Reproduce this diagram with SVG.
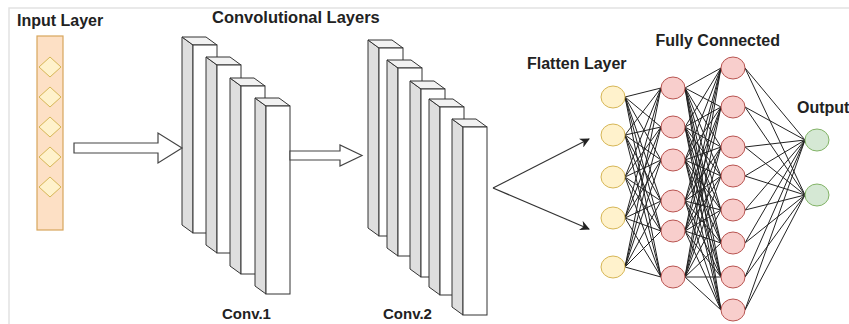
<svg xmlns="http://www.w3.org/2000/svg" xmlns:xlink="http://www.w3.org/1999/xlink" width="849" height="324" viewBox="0 0 849 324">
<style>
.lbl{font-family:"Liberation Sans",Arial,sans-serif;font-weight:bold;font-size:16px;fill:#222}
.sm{font-size:15px}
.blk-side{fill:#dedede;stroke:#333;stroke-width:1}
.blk-top{fill:#f2f2f2;stroke:#333;stroke-width:1}
.blk-front{fill:#fff;stroke:#333;stroke-width:1}
.barrow{fill:#fff;stroke:#444;stroke-width:1.2}
.dia{fill:#fff2cc;stroke:#d6b656;stroke-width:1}
.yel{fill:#fff2cc;stroke:#d6b656;stroke-width:1}
.pink{fill:#f8cecc;stroke:#b85450;stroke-width:1}
.grn{fill:#d5e8d4;stroke:#82b366;stroke-width:1}
.mesh{fill:none;stroke:#222;stroke-width:1}
.flat{fill:none;stroke:#333;stroke-width:1.2}
</style>
<defs>
<g id="blk">
<polygon class="blk-side" points="-11,-8 0,0 0,188 -11,180"/>
<polygon class="blk-top" points="-11,-8 13,-8 24,0 0,0"/>
<rect class="blk-front" x="0" y="0" width="24" height="188"/>
</g>
<marker id="ah" markerWidth="10" markerHeight="10" refX="9" refY="5" orient="auto" markerUnits="userSpaceOnUse">
<path d="M0,0 L10,5 L0,10 L3,5 Z" fill="#222"/>
</marker>
</defs>
<rect width="849" height="324" fill="#fff"/>
<path d="M9 324V8H849" fill="none" stroke="#e2e2e2" stroke-width="1.5"/>

<g id="input-layer">
<rect x="37" y="36" width="26" height="194" fill="#fde0c5" stroke="#d8a65c" stroke-width="1.2"/>
<polygon class="dia" points="50,57 61,67 50,77 39,67"/>
<polygon class="dia" points="50,87 61,97 50,107 39,97"/>
<polygon class="dia" points="50,117 61,127 50,137 39,127"/>
<polygon class="dia" points="50,147 61,157 50,167 39,157"/>
<polygon class="dia" points="50,177 61,187 50,197 39,187"/>
<text class="lbl" x="17" y="26">Input Layer</text>
</g>

<g id="conv1">
<use xlink:href="#blk" x="193" y="45"/>
<use xlink:href="#blk" x="217" y="65"/>
<use xlink:href="#blk" x="241" y="86"/>
<use xlink:href="#blk" x="266" y="106"/>
<text class="lbl sm" x="222" y="319">Conv.1</text>
</g>

<g id="conv2">
<use xlink:href="#blk" x="379" y="48"/>
<use xlink:href="#blk" x="398" y="68"/>
<use xlink:href="#blk" x="421" y="89"/>
<use xlink:href="#blk" x="440" y="107"/>
<use xlink:href="#blk" x="463" y="127"/>
<text class="lbl sm" x="383" y="319">Conv.2</text>
</g>

<g id="conv-title">
<text class="lbl" x="212" y="23" style="font-size:16.5px">Convolutional Layers</text>
</g>

<g id="connectors">
<path class="barrow" d="M74 143H158V133L182 148L158 163V153H74Z"/>
<path class="barrow" d="M290 151H340V145L362 155.5L340 166V160H290Z"/>
<path class="flat" d="M493 188L589 139" marker-end="url(#ah)"/>
<path class="flat" d="M493 188L589 229" marker-end="url(#ah)"/>
<path class="mesh" d="M625 97L661 88M625 97L661 127M625 97L661 160M625 97L661 201M625 97L661 231M625 97L661 277
M625 135L661 88M625 135L661 127M625 135L661 160M625 135L661 201M625 135L661 231M625 135L661 277
M625 177L661 88M625 177L661 127M625 177L661 160M625 177L661 201M625 177L661 231M625 177L661 277
M625 218L661 88M625 218L661 127M625 218L661 160M625 218L661 201M625 218L661 231M625 218L661 277
M625 267L661 88M625 267L661 127M625 267L661 160M625 267L661 201M625 267L661 231M625 267L661 277"/>
<path class="mesh" d="M685 88L721 68M685 88L721 107M685 88L721 147M685 88L721 176M685 88L721 210M685 88L721 243M685 88L721 277M685 88L721 310
M685 127L721 68M685 127L721 107M685 127L721 147M685 127L721 176M685 127L721 210M685 127L721 243M685 127L721 277M685 127L721 310
M685 160L721 68M685 160L721 107M685 160L721 147M685 160L721 176M685 160L721 210M685 160L721 243M685 160L721 277M685 160L721 310
M685 201L721 68M685 201L721 107M685 201L721 147M685 201L721 176M685 201L721 210M685 201L721 243M685 201L721 277M685 201L721 310
M685 231L721 68M685 231L721 107M685 231L721 147M685 231L721 176M685 231L721 210M685 231L721 243M685 231L721 277M685 231L721 310
M685 277L721 68M685 277L721 107M685 277L721 147M685 277L721 176M685 277L721 210M685 277L721 243M685 277L721 277M685 277L721 310"/>
<path class="mesh" d="M745 68L805 140M745 68L805 195M745 107L805 140M745 107L805 195M745 147L805 140M745 147L805 195M745 176L805 140M745 176L805 195
M745 210L805 140M745 210L805 195M745 243L805 140M745 243L805 195M745 277L805 140M745 277L805 195M745 310L805 140M745 310L805 195"/>
</g>

<g id="flatten-layer">
<ellipse class="yel" cx="613" cy="97" rx="12" ry="11"/>
<ellipse class="yel" cx="613" cy="135" rx="12" ry="11"/>
<ellipse class="yel" cx="613" cy="177" rx="12" ry="11"/>
<ellipse class="yel" cx="613" cy="218" rx="12" ry="11"/>
<ellipse class="yel" cx="613" cy="267" rx="12" ry="11"/>
<text class="lbl" x="527" y="69">Flatten Layer</text>
</g>

<g id="fc1">
<ellipse class="pink" cx="673" cy="88" rx="12" ry="11"/>
<ellipse class="pink" cx="673" cy="127" rx="12" ry="11"/>
<ellipse class="pink" cx="673" cy="160" rx="12" ry="11"/>
<ellipse class="pink" cx="673" cy="201" rx="12" ry="11"/>
<ellipse class="pink" cx="673" cy="231" rx="12" ry="11"/>
<ellipse class="pink" cx="673" cy="277" rx="12" ry="11"/>
</g>

<g id="fc2">
<ellipse class="pink" cx="733" cy="68" rx="12" ry="11"/>
<ellipse class="pink" cx="733" cy="107" rx="12" ry="11"/>
<ellipse class="pink" cx="733" cy="147" rx="12" ry="11"/>
<ellipse class="pink" cx="733" cy="176" rx="12" ry="11"/>
<ellipse class="pink" cx="733" cy="210" rx="12" ry="11"/>
<ellipse class="pink" cx="733" cy="243" rx="12" ry="11"/>
<ellipse class="pink" cx="733" cy="277" rx="12" ry="11"/>
<ellipse class="pink" cx="733" cy="310" rx="12" ry="11"/>
<text class="lbl" x="780" y="46" text-anchor="end">Fully Connected</text>
</g>

<g id="output-layer">
<ellipse class="grn" cx="817" cy="140" rx="12" ry="11"/>
<ellipse class="grn" cx="817" cy="195" rx="12" ry="11"/>
<text class="lbl" x="797" y="113">Output</text>
</g>
</svg>
